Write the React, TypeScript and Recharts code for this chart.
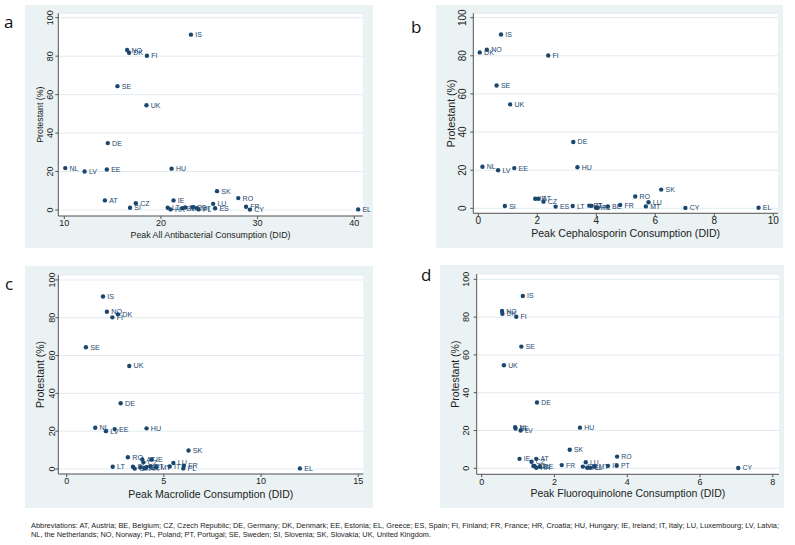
import React from 'react';
import { ScatterChart, Scatter, XAxis, YAxis, CartesianGrid } from 'recharts';

const countries = [
  'AT', 'BE', 'CY', 'CZ', 'DE', 'DK', 'EE', 'EL', 'ES', 'FI', 'FR', 'HR', 'HU', 'IE', 'IS',
  'IT', 'LT', 'LU', 'LV', 'MT', 'NL', 'NO', 'PL', 'PT', 'RO', 'SE', 'SI', 'SK', 'UK'
];
const protestant = [
  5.0, 1.0, 0.2, 3.5, 34.8, 81.8, 21.1, 0.3, 0.9, 80.2, 1.7, 0.3, 21.5, 5.0, 91.2,
  1.3, 1.2, 3.2, 20.0, 1.0, 21.8, 83.2, 0.3, 1.4, 6.2, 64.4, 1.2, 9.8, 54.5
];
const peakAll = [
  14.2, 22.2, 29.2, 17.4, 14.5, 16.7, 14.4, 40.4, 25.6, 18.55, 28.8, 21.0, 21.1, 21.3, 23.1,
  22.5, 20.7, 25.4, 12.1, 23.7, 10.1, 16.5, 23.9, 23.3, 28.0, 15.5, 16.8, 25.8, 18.5
];
const peakCeph = [
  2.03, 4.39, 7.02, 2.21, 3.22, 0.05, 1.22, 9.5, 2.62, 2.37, 4.81, 3.99, 3.36, 1.93, 0.77,
  3.84, 3.2, 5.77, 0.67, 5.68, 0.14, 0.29, 4.05, 3.76, 5.32, 0.62, 0.9, 6.2, 1.08
];
const peakMacro = [
  3.89, 4.1, 3.5, 3.95, 2.78, 2.64, 2.47, 12.0, 3.8, 2.35, 6.03, 4.0, 4.11, 4.37, 1.87,
  5.3, 2.37, 5.49, 2.02, 4.6, 1.47, 2.07, 6.0, 4.3, 3.15, 0.99, 3.41, 6.27, 3.22
];
const peakFluoro = [
  1.5, 1.6, 7.05, 1.37, 1.52, 0.57, 0.93, 2.98, 2.78, 0.95, 2.2, 1.5, 2.7, 1.04, 1.13,
  3.47, 1.45, 2.86, 1.07, 3.1, 0.92, 0.56, 2.9, 3.71, 3.72, 1.09, 1.42, 2.42, 0.61
];

const yTicks = [0, 20, 40, 60, 80, 100];
const allTicks = [10, 20, 30, 40];
const cephTicks = [0, 2, 4, 6, 8, 10];
const macroTicks = [0, 5, 10, 15];
const fluoroTicks = [0, 2, 4, 6, 8];

const NAVY = '#1a476f';
const BG = '#eaf2f3';
const GRID = '#e3ebee';
const AXIS = '#555';
const TXT = '#222';
const FONT = '"Liberation Sans", Arial, sans-serif';

const panels = [
  {
    key: 'a', xs: peakAll, ticks: allTicks, xDomain: [9.38, 40.87], yDomain: [-3.12, 102.3],
    title: 'Peak All Antibacterial Consumption (DID)',
    left: 25, top: 5, w: 348, h: 243, mTop: 8.3, mRight: 10.3, yw: 33.3, xh: 32,
    titleFs: 8.8, tickFs: 9, labelFs: 7, yTickGap: 2, xTitleDy: 21.5, yTitleX: 18
  },
  {
    key: 'b', xs: peakCeph, ticks: cephTicks, xDomain: [-0.17, 10.16], yDomain: [-2.62, 102.3],
    title: 'Peak Cephalosporin Consumption (DID)',
    left: 436, top: 5, w: 347, h: 243, mTop: 8.3, mRight: 5, yw: 37.3, xh: 34.7,
    titleFs: 10.6, tickFs: 10, labelFs: 7, yTickGap: 4, xTitleDy: 24, yTitleX: 19
  },
  {
    key: 'c', xs: peakMacro, ticks: macroTicks, xDomain: [-0.43, 15.26], yDomain: [-2.65, 102.6],
    title: 'Peak Macrolide Consumption (DID)',
    left: 25, top: 266, w: 348, h: 242, mTop: 9, mRight: 9.7, yw: 33.3, xh: 34,
    titleFs: 10.5, tickFs: 9, labelFs: 7.2, yTickGap: 0.5, xTitleDy: 23.5, yTitleX: 18.5
  },
  {
    key: 'd', xs: peakFluoro, ticks: fluoroTicks, xDomain: [-0.137, 8.17], yDomain: [-3.17, 102.8],
    title: 'Peak Fluoroquinolone Consumption (DID)',
    left: 440, top: 265, w: 344, h: 243, mTop: 9, mRight: 5, yw: 36.7, xh: 33.7,
    titleFs: 10.5, tickFs: 9, labelFs: 6.8, yTickGap: 4.5, xTitleDy: 23, yTitleX: 19.5
  }
];

function Panel({ p }: { p: any }) {
  const data = countries.map((name, i) => ({ name, x: p.xs[i], y: protestant[i] }));

  const yTick = (tp: any) => (
    <text
      x={tp.x}
      y={tp.y}
      transform={`rotate(-90 ${tp.x} ${tp.y})`}
      textAnchor="middle"
      fontSize={p.tickFs}
      fill={TXT}
      fontFamily={FONT}
    >
      {tp.payload.value}
    </text>
  );

  const xTitle = (lp: any) => {
    const vb = lp.viewBox;
    return (
      <text x={vb.x + vb.width / 2} y={vb.y + p.xTitleDy} textAnchor="middle" fontSize={p.titleFs} fill={TXT} fontFamily={FONT}>
        {p.title}
      </text>
    );
  };

  const yTitle = (lp: any) => {
    const vb = lp.viewBox;
    const cx = vb.x + p.yTitleX;
    const cy = vb.y + vb.height / 2;
    return (
      <text x={cx} y={cy} transform={`rotate(-90 ${cx} ${cy})`} textAnchor="middle" fontSize={p.titleFs} fill={TXT} fontFamily={FONT}>
        Protestant (%)
      </text>
    );
  };

  // marker plus its country label to the right, like Stata's mlabel position 3
  const dot = (sp: any) => (
    <g>
      <circle cx={sp.cx} cy={sp.cy} r={2.2} fill={NAVY} />
      <text x={sp.cx + 4.3} y={sp.cy + 2.5} fontSize={p.labelFs} fill={NAVY} fontFamily={FONT}>
        {sp.payload.name}
      </text>
    </g>
  );

  return (
    <div style={{ position: 'absolute', left: p.left, top: p.top, width: p.w, height: p.h, background: BG }}>
      <ScatterChart width={p.w} height={p.h} margin={{ top: p.mTop, right: p.mRight, left: 0, bottom: 0 }}>
        <CartesianGrid vertical={false} fill="#ffffff" stroke={GRID} />
        <XAxis
          type="number"
          dataKey="x"
          domain={p.xDomain}
          ticks={p.ticks}
          interval={0}
          height={p.xh}
          tickSize={3}
          tickMargin={1}
          axisLine={{ stroke: AXIS }}
          tickLine={{ stroke: AXIS }}
          tick={{ fontSize: p.tickFs, fill: TXT, fontFamily: FONT }}
          label={{ content: xTitle }}
        />
        <YAxis
          type="number"
          dataKey="y"
          domain={p.yDomain}
          ticks={yTicks}
          interval={0}
          width={p.yw}
          tickSize={3}
          tickMargin={p.yTickGap}
          axisLine={{ stroke: AXIS }}
          tickLine={{ stroke: AXIS }}
          tick={yTick}
          label={{ content: yTitle }}
        />
        <Scatter data={data} isAnimationActive={false} shape={dot} />
      </ScatterChart>
    </div>
  );
}

export default function App() {
  return (
    <div style={{ position: 'absolute', left: 0, top: 0, width: 795, height: 545, background: '#fff', fontFamily: FONT }}>
      {panels.map((p) => (
        <Panel key={p.key} p={p} />
      ))}
      <svg width={795} height={545} style={{ position: 'absolute', left: 0, top: 0, pointerEvents: 'none' }}>
        <g fontFamily='"Open Sans", sans-serif' fontSize={17} fill="#111">
          <text x={4} y={28}>a</text>
          <text x={411} y={33}>b</text>
          <text x={5} y={290}>c</text>
          <text x={421} y={280.5}>d</text>
        </g>
        <g fontFamily={FONT} fontSize={7.5} fill="#222">
          <text x={31} y={527.7} textLength={748} lengthAdjust="spacingAndGlyphs">
            Abbreviations: AT, Austria; BE, Belgium; CZ, Czech Republic; DE, Germany; DK, Denmark; EE, Estonia; EL, Greece; ES, Spain; FI, Finland; FR, France; HR, Croatia; HU, Hungary; IE, Ireland; IT, Italy; LU, Luxembourg; LV, Latvia;
          </text>
          <text x={31} y={537} textLength={400} lengthAdjust="spacingAndGlyphs">
            NL, the Netherlands; NO, Norway; PL, Poland; PT, Portugal; SE, Sweden; SI, Slovenia; SK, Slovakia; UK, United Kingdom.
          </text>
        </g>
      </svg>
    </div>
  );
}
